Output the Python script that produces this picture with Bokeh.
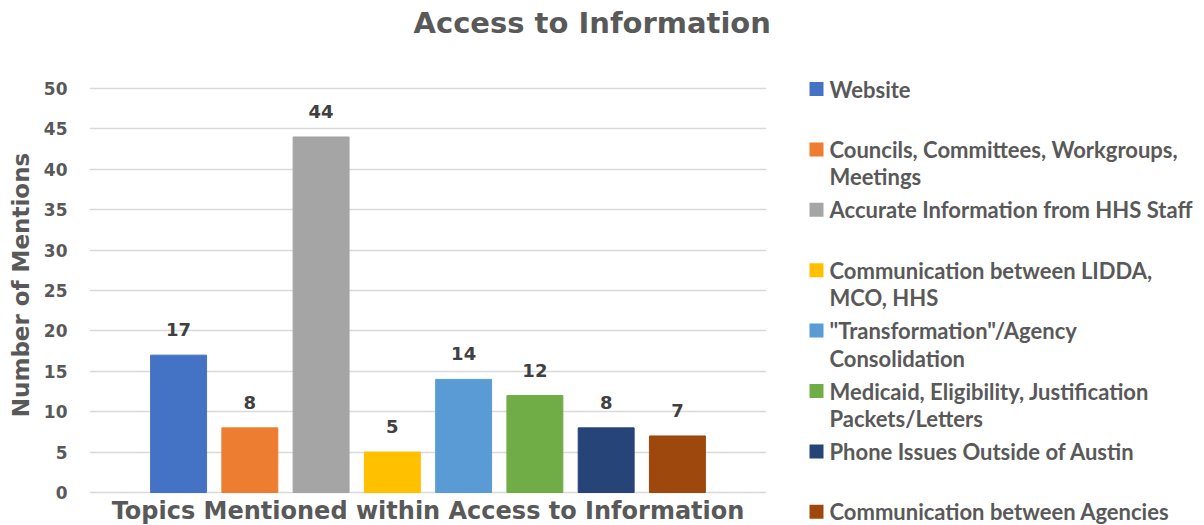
from bokeh.plotting import figure
from bokeh.models import Range1d, FixedTicker, ColumnDataSource, Title
from bokeh.layouts import row
from bokeh.embed import file_html
from bokeh.resources import INLINE
from bokeh.core.properties import value

# ---------------- data ----------------
title_text = "Access to Information"
x_title = "Topics Mentioned within Access to Information"
y_title = "Number of Mentions"
topics = [
    "Website",
    "Councils, Committees, Workgroups,\nMeetings",
    "Accurate Information from HHS Staff",
    "Communication between LIDDA,\nMCO, HHS",
    "\"Transformation\"/Agency\nConsolidation",
    "Medicaid, Eligibility, Justification\nPackets/Letters",
    "Phone Issues Outside of Austin",
    "Communication between Agencies",
]
mentions = [17, 8, 44, 5, 14, 12, 8, 7]
colors = ["#4472C4", "#ED7D31", "#A5A5A5", "#FFC000",
          "#5B9BD5", "#70AD47", "#264478", "#9E480E"]
y_ticks = [0, 5, 10, 15, 20, 25, 30, 35, 40, 45, 50]

# ---------------- layout (canvas px) ----------------
W1, W2, H = 800, 404, 525
FL, FR = 89, 766          # plot area left/right
G50, G0 = 88, 492         # y of gridlines 50 and 0
T0 = 44                   # top panel (title) height
X0, X1 = -1.25, 8.25
ppu_y = (G0 - G50) / 50.0
Y0 = -(H - G0) / ppu_y
Y1 = 50 + (G50 - T0) / ppu_y
GRAY = "#595959"

p = figure(width=W1, height=H, x_range=Range1d(X0, X1), y_range=Range1d(Y0, Y1),
           output_backend="svg", toolbar_location=None, x_axis_location=None,
           min_border_left=FL, min_border_right=W1 - FR,
           min_border_top=T0, min_border_bottom=0)
p.outline_line_color = None
p.xgrid.visible = False
p.ygrid.ticker = FixedTicker(ticks=y_ticks)
p.ygrid.grid_line_color = "#D9D9D9"
p.ygrid.grid_line_width = 1.5

p.yaxis.ticker = FixedTicker(ticks=y_ticks)
p.yaxis.axis_line_color = None
p.yaxis.major_tick_line_color = None
p.yaxis.minor_tick_line_color = None
p.yaxis.major_tick_out = 0
p.yaxis.major_label_text_font = "DejaVu Sans"
p.yaxis.major_label_text_font_style = "bold"
p.yaxis.major_label_text_font_size = "17px"
p.yaxis.major_label_text_color = GRAY
p.yaxis.major_label_standoff = 22
p.yaxis.axis_label = y_title
p.yaxis.axis_label_text_font = "DejaVu Sans"
p.yaxis.axis_label_text_font_style = "bold"
p.yaxis.axis_label_text_font_size = "23px"
p.yaxis.axis_label_text_color = GRAY
p.yaxis.axis_label_standoff = 7

# title
p.title = Title(text=title_text, align="left", offset=324, vertical_align="middle",
                text_font="DejaVu Sans", text_font_style="bold",
                text_font_size="29px", text_color=GRAY, standoff=8)

# bars and data labels
src = ColumnDataSource(dict(x=list(range(len(mentions))), top=mentions, color=colors,
                            label=[str(v) for v in mentions]))
p.vbar(x="x", top="top", width=0.785, color="color", source=src)
p.text(x="x", y="top", text="label", source=src, text_align="center",
       text_baseline="middle", y_offset=-25.5, text_font=value("DejaVu Sans"),
       text_font_style="bold", text_font_size="18px", text_color="#404040")

# x axis title (no x ticks in the original)
p.text(x=[(X0 + X1) / 2], y=[Y0 + (H - 510) / ppu_y], text=[x_title],
       text_align="center", text_baseline="middle",
       text_font=value("DejaVu Sans"), text_font_style="bold",
       text_font_size="24px", text_color=GRAY)

# ---------------- legend ----------------
lg = figure(width=W2, height=H, x_range=Range1d(0, W2), y_range=Range1d(H, T0),
            output_backend="svg", toolbar_location=None,
            x_axis_location=None, y_axis_location=None,
            min_border_left=0, min_border_right=0, min_border_top=T0,
            min_border_bottom=0)
lg.outline_line_color = None
lg.grid.visible = False

top0, step, line_h = 88.5, 60.4, 27.5
sq_x, sq_size, txt_x = 16, 14, 29
sq_y, tx, ty, tt = [], [], [], []
for i, lab in enumerate(topics):
    yc = top0 + i * step
    sq_y.append(yc)
    for j, line in enumerate(lab.split("\n")):
        tx.append(txt_x)
        ty.append(yc + j * line_h)
        tt.append(line)
lg.rect(x=[sq_x] * len(topics), y=sq_y, width=sq_size, height=sq_size,
        color=colors, line_color=None)
lg.text(x=tx, y=ty, text=tt, text_align="left", text_baseline="middle",
        text_font=value("Lato"), text_font_style="bold", text_font_size="22px",
        text_color=GRAY)

layout = row(p, lg)
open("out.html", "w").write(file_html(layout, INLINE))
